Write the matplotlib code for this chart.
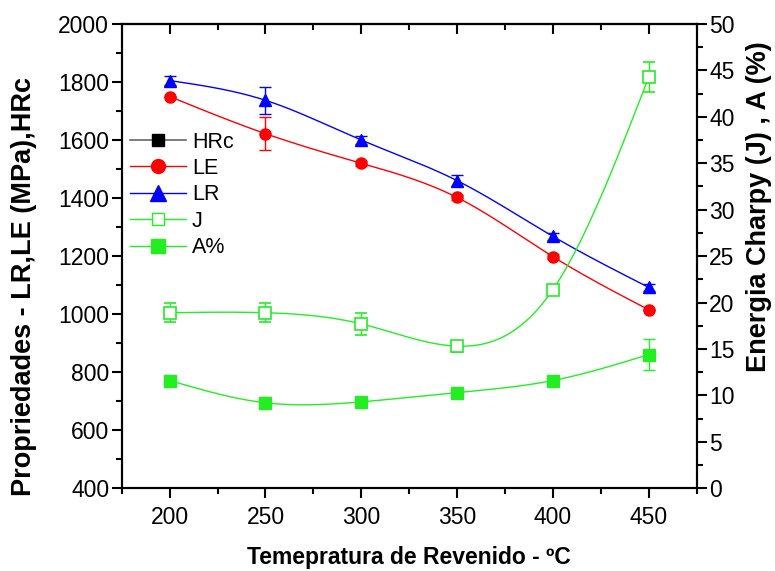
import numpy as np
import matplotlib.pyplot as plt
from matplotlib.ticker import MultipleLocator

plt.rcParams['font.family'] = ['Liberation Sans', 'DejaVu Sans']

temps = [200, 250, 300, 350, 400, 450]

# left axis (MPa)
le = [1750, 1622, 1520, 1402, 1198, 1015]
le_err = [0, 58, 8, 10, 8, 0]
lr = [1805, 1737, 1600, 1460, 1268, 1092]
lr_err = [15, 47, 15, 18, 12, 12]

# right axis (J, %)
j_vals = [18.9, 18.9, 17.7, 15.3, 21.4, 44.3]
j_err = [1.0, 1.0, 1.2, 0.6, 0.0, 1.6]
a_vals = [11.6, 9.2, 9.3, 10.3, 11.6, 14.4]
a_err = [0.4, 0.6, 0.4, 0.0, 0.0, 1.7]


def smooth(x, y, n=200):
    # natural cubic spline, only used for the connecting line
    x = np.asarray(x, float)
    y = np.asarray(y, float)
    k = len(x)
    h = np.diff(x)
    A = np.zeros((k, k))
    b = np.zeros(k)
    A[0, 0] = A[-1, -1] = 1
    for i in range(1, k - 1):
        A[i, i - 1] = h[i - 1]
        A[i, i] = 2 * (h[i - 1] + h[i])
        A[i, i + 1] = h[i]
        b[i] = 6 * ((y[i + 1] - y[i]) / h[i] - (y[i] - y[i - 1]) / h[i - 1])
    M = np.linalg.solve(A, b)
    xs = np.linspace(x[0], x[-1], n)
    idx = np.clip(np.searchsorted(x, xs) - 1, 0, k - 2)
    x0, x1 = x[idx], x[idx + 1]
    hh = x1 - x0
    t0, t1 = x1 - xs, xs - x0
    ys = (M[idx] * t0**3 + M[idx + 1] * t1**3) / (6 * hh) \
        + (y[idx] / hh - M[idx] * hh / 6) * t0 \
        + (y[idx + 1] / hh - M[idx + 1] * hh / 6) * t1
    return xs, ys


fig, ax = plt.subplots(figsize=(7.75, 5.71), dpi=100)
ax2 = ax.twinx()

green = '#22ee22'

ax.plot([], [], color='#666666', marker='s', mfc='black', mec='black', ms=9, lw=1.2, label='HRc')

xs, ys = smooth(temps, le)
ax.plot(xs, ys, color='red', lw=1)
ax.errorbar(temps, le, yerr=le_err, fmt='o', color='red', ms=8, capsize=4, elinewidth=1)
ax.plot([], [], color='red', marker='o', ms=10, lw=1, label='LE')

xs, ys = smooth(temps, lr)
ax.plot(xs, ys, color='blue', lw=1)
ax.errorbar(temps, lr, yerr=lr_err, fmt='^', color='blue', ms=9, capsize=4, elinewidth=1)
ax.plot([], [], color='blue', marker='^', ms=11, lw=1, label='LR')

xs, ys = smooth(temps, j_vals)
ax2.plot(xs, ys, color=green, lw=1)
ax2.errorbar(temps, j_vals, yerr=j_err, fmt='s', color=green, mfc='white', ms=8,
             mew=1.2, capsize=4, elinewidth=1)
ax.plot([], [], color=green, marker='s', mfc='white', ms=9, lw=1, label='J')

xs, ys = smooth(temps, a_vals)
ax2.plot(xs, ys, color=green, lw=1)
ax2.errorbar(temps, a_vals, yerr=a_err, fmt='s', color=green, ms=8, capsize=4, elinewidth=1)
ax.plot([], [], color=green, marker='s', ms=10, lw=1, label='A%')

ax.set_xlim(175, 475)
ax.set_ylim(400, 2000)
ax2.set_ylim(0, 50)

ax.xaxis.set_major_locator(MultipleLocator(50))
ax.xaxis.set_minor_locator(MultipleLocator(25))
ax.yaxis.set_major_locator(MultipleLocator(200))
ax.yaxis.set_minor_locator(MultipleLocator(100))
ax2.yaxis.set_major_locator(MultipleLocator(5))
ax2.yaxis.set_minor_locator(MultipleLocator(2.5))

ax.tick_params(axis='x', which='both', direction='out', labelsize=16.5, pad=6)
ax.tick_params(axis='y', which='both', direction='out', labelsize=16.5, pad=2)
ax2.tick_params(axis='y', which='both', direction='out', labelsize=16.5, pad=2)
for a in (ax, ax2):
    a.tick_params(which='major', length=7, width=1.5)
    a.tick_params(which='minor', length=4, width=1.5)
    for s in a.spines.values():
        s.set_linewidth(1.5)

# top ticks point inward
top = ax.secondary_xaxis('top')
top.xaxis.set_major_locator(MultipleLocator(50))
top.xaxis.set_minor_locator(MultipleLocator(25))
top.tick_params(which='both', direction='in', labeltop=False, width=1.5)
top.tick_params(which='major', length=7)
top.tick_params(which='minor', length=4)
top.spines['top'].set_linewidth(1.5)

ax.set_xlabel('Temepratura de Revenido - ºC', fontsize=16.5, fontweight='bold', labelpad=12)
ax.set_ylabel('Propriedades - LR,LE (MPa),HRc', fontsize=19.5, fontweight='bold')
ax2.set_ylabel('Energia Charpy (J) , A (%)', fontsize=19.5, fontweight='bold')
ax.yaxis.set_label_coords(-0.148, 0.435)
ax2.yaxis.set_label_coords(1.085, 0.606)

ax.legend(loc='upper left', bbox_to_anchor=(-0.02, 0.81), frameon=False, fontsize=15.5,
          handlelength=2.6, labelspacing=0.25, handletextpad=0.3)

fig.subplots_adjust(left=0.157, right=0.899, top=0.958, bottom=0.145)
fig.savefig('out.png', dpi=100)
